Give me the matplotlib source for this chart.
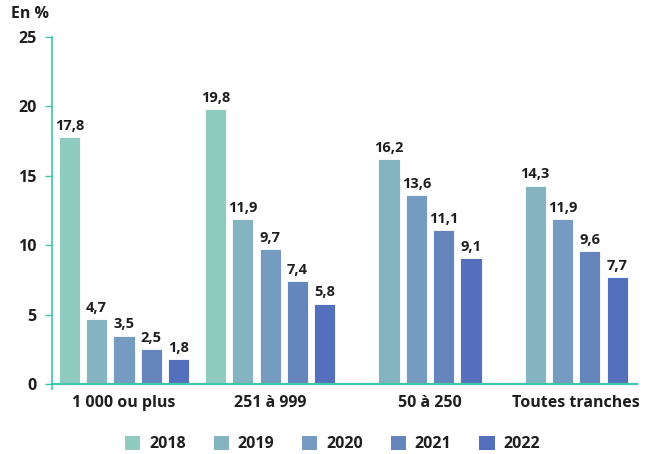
import numpy as np
import matplotlib
matplotlib.use("Agg")
import matplotlib.pyplot as plt
from matplotlib.patches import Patch

categories = ["1 000 ou plus", "251 à 999", "50 à 250", "Toutes tranches"]
years = ["2018", "2019", "2020", "2021", "2022"]
v2018 = [17.8, 19.8, np.nan, np.nan]
v2019 = [4.7, 11.9, 16.2, 14.3]
v2020 = [3.5, 9.7, 13.6, 11.9]
v2021 = [2.5, 7.4, 11.1, 9.6]
v2022 = [1.8, 5.8, 9.1, 7.7]
series = [v2018, v2019, v2020, v2021, v2022]
colors = ["#8fcbbf", "#84b4c0", "#769bc0", "#6585bd", "#5470bd"]
yticks = [0, 5, 10, 15, 20, 25]

plt.rcParams['font.family'] = ['Open Sans', 'DejaVu Sans']
txt = "#1e1e1e"
axcol = "#3fc7aa"

fig = plt.figure(figsize=(6.52, 4.54), dpi=100)
ax = fig.add_axes([52/652, (454-389)/454, (637-52)/652, (389-37)/454])

for s in ["top", "right"]:
    ax.spines[s].set_visible(False)
ax.spines["left"].set_color(axcol)
ax.spines["left"].set_linewidth(1.2)
ax.spines["bottom"].set_color(axcol)
ax.spines["bottom"].set_linewidth(1.6)
ax.spines["bottom"].set_position(("data", 0))

x = np.arange(len(categories))
slot = 0.187
width = 0.145
present = [[] for _ in categories]
for j, (vals, c) in enumerate(zip(series, colors)):
    xs = x + (j - 2) * slot
    ax.bar(xs, vals, width=width, color=c, edgecolor="white", linewidth=0.6, zorder=2)
    for i, (xi, v) in enumerate(zip(xs, vals)):
        if not np.isnan(v):
            present[i].append(xi)
            ax.annotate(f"{v:.1f}".replace(".", ","), (xi, v), xytext=(0, 3),
                        textcoords="offset points", ha="center", va="bottom",
                        fontsize=10.5, fontweight="bold", color=txt)

ax.set_xlim(-0.493, 3.51)
ax.set_ylim(-0.35, 25)
ax.spines["left"].set_bounds(-0.35, 25)
ax.set_yticks(yticks)
ax.set_yticklabels([str(t) for t in yticks], fontsize=11.5, fontweight="bold", color=txt)
ax.set_xticks([np.mean(p) for p in present])
ax.set_xticklabels(categories, fontsize=11.5, fontweight="bold", color=txt)
ax.tick_params(axis="x", length=0, pad=8)
ax.tick_params(axis="y", length=5, width=1, color=axcol, pad=6)

fig.text(11/652, 1 - 14/454, "En %", fontsize=11.5, fontweight="bold", color=txt, va="center", ha="left")

handles = [Patch(facecolor=c, edgecolor="none") for c in colors]
fig.legend(handles, years, loc="center", bbox_to_anchor=(0.51, 1 - 444/454), ncol=5,
           frameon=False, handlelength=0.95, handleheight=0.95, columnspacing=1.75,
           handletextpad=0.55, prop={"weight": "bold", "size": 11.5}, labelcolor=txt)

fig.savefig("out.png", dpi=100)
